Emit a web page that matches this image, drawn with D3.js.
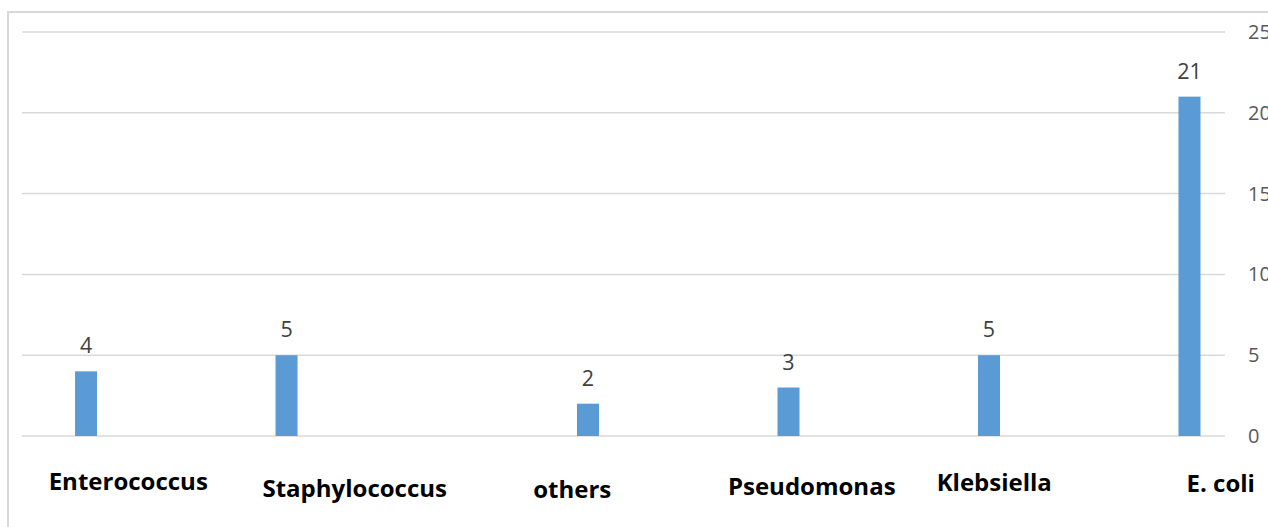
<!DOCTYPE html>
<html>
<head>
<meta charset="utf-8">
<script src="https://cdn.jsdelivr.net/npm/d3@7/dist/d3.min.js"></script>
<style>
  html, body { margin: 0; padding: 0; background: #ffffff; overflow: hidden; }
  svg { display: block; }
</style>
</head>
<body>
<svg id="chart" width="1268" height="527"></svg>
<script>
// Isolates by organism
const categories = ["Enterococcus", "Staphylococcus", "others", "Pseudomonas", "Klebsiella", "E. coli"];
// Counts are split over two series that share one colour
const seriesA = [4, 5, null, null, null, null];
const seriesB = [null, null, 2, 3, 5, 21];
const seriesKeys = ["seriesA", "seriesB"];
const yTicks = [0, 5, 10, 15, 20, 25];

const svg = d3.select("#chart");
const W = 1268, H = 527;
const plot = { left: 22, right: 1225, top: 32, bottom: 436 };

// chart-area frame
svg.append("rect")
  .attr("x", 8).attr("y", 12)
  .attr("width", W + 20).attr("height", H + 20)
  .attr("fill", "#ffffff")
  .attr("stroke", "#d9d9d9")
  .attr("stroke-width", 2);

const x = d3.scaleBand()
  .domain(categories)
  .range([plot.left, plot.right])
  .padding(0);

const xs = d3.scaleBand()
  .domain(seriesKeys)
  .range([0, x.bandwidth()])
  .paddingInner(0.782)
  .paddingOuter(0.384)
  .align(0.684);

const y = d3.scaleLinear()
  .domain([0, 25])
  .range([plot.bottom, plot.top]);

// gridlines
svg.append("g")
  .selectAll("line")
  .data(yTicks)
  .join("line")
  .attr("x1", plot.left).attr("x2", plot.right)
  .attr("y1", d => y(d)).attr("y2", d => y(d))
  .attr("stroke", "#d9d9d9")
  .attr("stroke-width", 1.5);

// right-hand value axis (runs off the right edge of the frame)
const yAxis = svg.append("g")
  .attr("transform", `translate(${plot.right},0)`)
  .call(d3.axisRight(y).tickValues(yTicks).tickSize(0).tickPadding(23));
yAxis.select(".domain").remove();
yAxis.selectAll("text")
  .attr("fill", "#595959")
  .style("font-family", "'Open Sans', sans-serif")
  .style("font-size", "20px");

// bars
const rows = [];
categories.forEach((c, i) => {
  if (seriesA[i] != null) rows.push({ cat: c, key: "seriesA", value: seriesA[i] });
  if (seriesB[i] != null) rows.push({ cat: c, key: "seriesB", value: seriesB[i] });
});

svg.append("g")
  .selectAll("rect")
  .data(rows)
  .join("rect")
  .attr("x", d => x(d.cat) + xs(d.key))
  .attr("y", d => y(d.value))
  .attr("width", xs.bandwidth())
  .attr("height", d => y(0) - y(d.value))
  .attr("fill", "#5b9bd5");

// value labels
svg.append("g")
  .selectAll("text")
  .data(rows)
  .join("text")
  .attr("x", d => x(d.cat) + xs(d.key) + xs.bandwidth() / 2)
  .attr("y", d => y(d.value) - 18)
  .attr("text-anchor", "middle")
  .attr("fill", "#404040")
  .style("font-family", "'Open Sans', sans-serif")
  .style("font-size", "21.5px")
  .text(d => d.value);

// category labels, each placed as its own text box under the axis
const labelShift = [
  { dx: 6, y: 490 },
  { dx: 32, y: 497 },
  { dx: 49, y: 498 },
  { dx: 88, y: 495 },
  { dx: 70, y: 491 },
  { dx: 96, y: 492 }
];
svg.append("g")
  .selectAll("text")
  .data(categories)
  .join("text")
  .attr("x", (d, i) => x(d) + x.bandwidth() / 2 + labelShift[i].dx)
  .attr("y", (d, i) => labelShift[i].y)
  .attr("text-anchor", "middle")
  .attr("fill", "#000000")
  .style("font-family", "'Open Sans', sans-serif")
  .style("font-weight", "700")
  .style("font-size", "24px")
  .text(d => d);
</script>
</body>
</html>
